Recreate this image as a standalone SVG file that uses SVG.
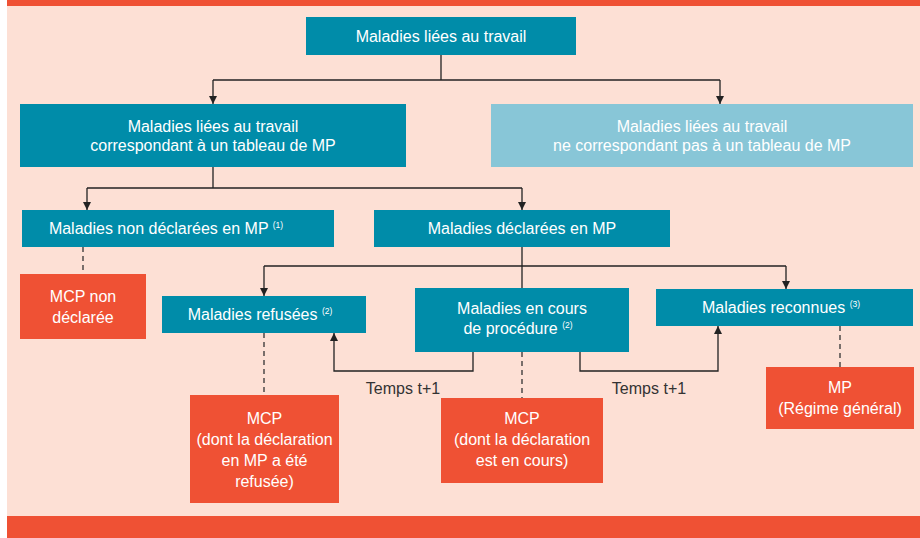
<svg xmlns="http://www.w3.org/2000/svg" width="920" height="538" viewBox="0 0 920 538">
<style>
.t{font-family:"Liberation Sans",Arial,sans-serif;font-size:16px;fill:#fff;text-anchor:middle}
.s{font-size:8.5px}
.tm{font-family:"Liberation Sans",Arial,sans-serif;font-size:16px;fill:#333;text-anchor:middle}
.teal{fill:#008ca9}
.light{fill:#88c6d7}
.org{fill:#ef5134}
.ln{fill:none;stroke:#222;stroke-width:1.3}
.dash{fill:none;stroke:#333;stroke-width:1.3;stroke-dasharray:5,4}
</style>
<defs>
<marker id="ah" viewBox="0 0 10 10" refX="10" refY="5" markerWidth="8" markerHeight="8" markerUnits="userSpaceOnUse" orient="auto">
<path d="M0,0 L10,5 L0,10 z" fill="#222"/>
</marker>
</defs>
<rect x="0" y="0" width="920" height="538" fill="#fff"/>
<rect x="7" y="6" width="913" height="510" fill="#fde0d5"/>
<rect x="7" y="0" width="913" height="6" class="org"/>
<rect x="7" y="516" width="913" height="22" class="org"/>

<g id="connectors">
<path class="ln" d="M441,55 V80"/>
<path class="ln" d="M213,80 H720"/>
<path class="ln" d="M213,80 V104" marker-end="url(#ah)"/>
<path class="ln" d="M720,80 V104" marker-end="url(#ah)"/>
<path class="ln" d="M213,167 V188"/>
<path class="ln" d="M87,188 H522"/>
<path class="ln" d="M87,188 V210" marker-end="url(#ah)"/>
<path class="ln" d="M522,188 V210" marker-end="url(#ah)"/>
<path class="ln" d="M522,247 V288"/>
<path class="ln" d="M264,266 H786"/>
<path class="ln" d="M264,266 V296" marker-end="url(#ah)"/>
<path class="ln" d="M786,266 V289" marker-end="url(#ah)"/>
<path class="ln" d="M473,352 V371 H334 V333" marker-end="url(#ah)"/>
<path class="ln" d="M580,352 V371 H718 V326" marker-end="url(#ah)"/>
<path class="dash" d="M83,247 V274"/>
<path class="dash" d="M264,333 V395"/>
<path class="dash" d="M522,352 V398"/>
<path class="dash" d="M840,326 V367"/>
<text class="tm" x="403" y="394">Temps t+1</text>
<text class="tm" x="649" y="394">Temps t+1</text>
</g>

<g id="n1">
<rect class="teal" x="306" y="17" width="270" height="38"/>
<text class="t" x="441" y="41.5">Maladies liées au travail</text>
</g>
<g id="n2">
<rect class="teal" x="20" y="104" width="386" height="63"/>
<text class="t" x="213" y="132">Maladies liées au travail</text>
<text class="t" x="213" y="151">correspondant à un tableau de MP</text>
</g>
<g id="n3">
<rect class="light" x="491" y="104" width="422" height="63"/>
<text class="t" x="702" y="132">Maladies liées au travail</text>
<text class="t" x="702" y="151">ne correspondant pas à un tableau de MP</text>
</g>
<g id="n4">
<rect class="teal" x="22" y="210" width="312" height="37"/>
<text class="t" x="166" y="234">Maladies non déclarées en MP <tspan class="s" dy="-6">(1)</tspan></text>
</g>
<g id="n5">
<rect class="teal" x="374" y="210" width="296" height="37"/>
<text class="t" x="522" y="234">Maladies déclarées en MP</text>
</g>
<g id="n6">
<rect class="org" x="20" y="274" width="126" height="65"/>
<text class="t" x="83" y="302">MCP non</text>
<text class="t" x="83" y="323">déclarée</text>
</g>
<g id="n7">
<rect class="teal" x="162" y="296" width="204" height="37"/>
<text class="t" x="260" y="320">Maladies refusées <tspan class="s" dy="-6">(2)</tspan></text>
</g>
<g id="n8">
<rect class="teal" x="415" y="288" width="214" height="64"/>
<text class="t" x="522" y="314">Maladies en cours</text>
<text class="t" x="518" y="334">de procédure <tspan class="s" dy="-6">(2)</tspan></text>
</g>
<g id="n9">
<rect class="teal" x="656" y="289" width="257" height="37"/>
<text class="t" x="781" y="313">Maladies reconnues <tspan class="s" dy="-6">(3)</tspan></text>
</g>
<g id="n10">
<rect class="org" x="190" y="395" width="149" height="108"/>
<text class="t" x="264.5" y="423.5">MCP</text>
<text class="t" x="264.5" y="444.5">(dont la déclaration</text>
<text class="t" x="264.5" y="465.5">en MP a été</text>
<text class="t" x="264.5" y="486.5">refusée)</text>
</g>
<g id="n11">
<rect class="org" x="441" y="398" width="162" height="85"/>
<text class="t" x="522" y="423.5">MCP</text>
<text class="t" x="522" y="444.5">(dont la déclaration</text>
<text class="t" x="522" y="465.5">est en cours)</text>
</g>
<g id="n12">
<rect class="org" x="766" y="367" width="148" height="62"/>
<text class="t" x="840" y="392.5">MP</text>
<text class="t" x="840" y="414">(Régime général)</text>
</g>
</svg>
